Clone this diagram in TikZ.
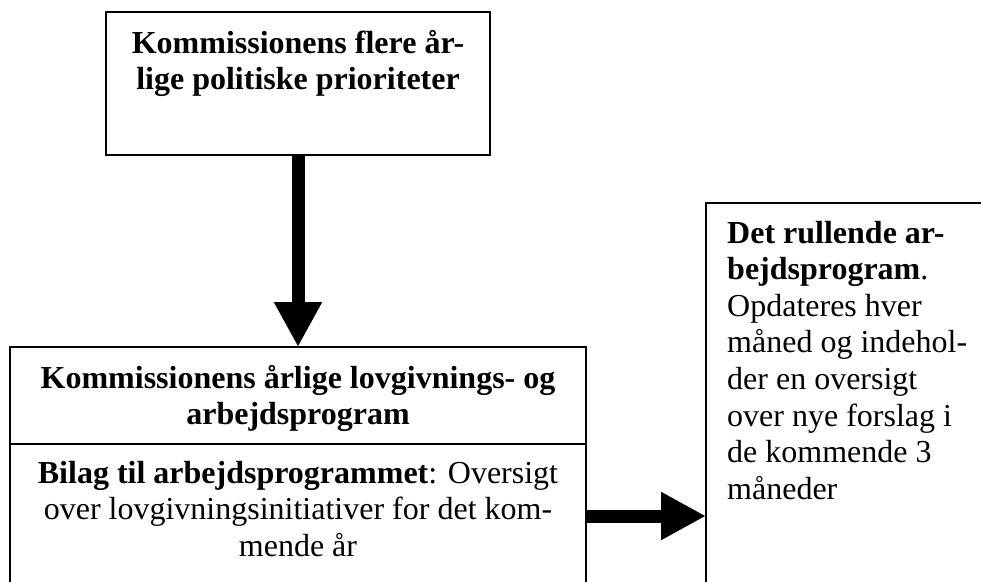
\documentclass[tikz,border=0pt]{standalone}
\usepackage{fontspec}
\setmainfont{Liberation Serif}
\usetikzlibrary{arrows.meta}
\begin{document}
\begin{tikzpicture}[x=1pt,y=-1pt,
  box/.style={draw, line width=1.6pt, inner sep=0pt, outer sep=0pt, anchor=north west},
  txt/.style={font=\fontsize{32}{36.6}\selectfont, inner sep=0pt},
  btxt/.style={font=\fontsize{32}{36.6}\selectfont\bfseries, inner sep=0pt},
  fat/.style={line width=13pt, -{Triangle[length=45pt,width=45pt]}}]
\useasboundingbox (0,0) rectangle (981,581);
\clip (0,0) rectangle (981,581);
% boxes
\node[box, minimum width=384pt, minimum height=143pt] (top) at (106,12) {};
\node[box, minimum width=576pt, minimum height=97pt] (header) at (10,347) {};
\node[box, minimum width=576pt, minimum height=300pt] (body) at (10,444) {};
\node[box, minimum width=320pt, minimum height=420pt] (right) at (706,203) {};
% texts (base anchor = baseline of the last line)
\node[btxt, align=center, anchor=base] (toptext) at (298,89.6)
  {Kommissionens flere år-\\lige politiske prioriteter};
\node[btxt, align=center, anchor=base] (headtext) at (298,424.6)
  {Kommissionens årlige lovgivnings- og\\arbejdsprogram};
\node[txt, align=center, anchor=base] (bodytext) at (298,556.2)
  {\textbf{Bilag til arbejdsprogrammet}: Oversigt\\over lovgivningsinitiativer for det kom-\\mende år};
\node[txt, align=left, anchor=base west] (righttext) at (727,499.2)
  {\textbf{Det rullende ar-}\\\textbf{bejdsprogram}.\\Opdateres hver\\måned og indehol-\\der en oversigt\\over nye forslag i\\de kommende 3\\måneder};
% arrows
\coordinate (arrowrow) at (0,516);
\draw[fat] (header.north |- top.south) -- (header.north);
\draw[fat] (body.east |- arrowrow) -- (right.west |- arrowrow);
\end{tikzpicture}
\end{document}
